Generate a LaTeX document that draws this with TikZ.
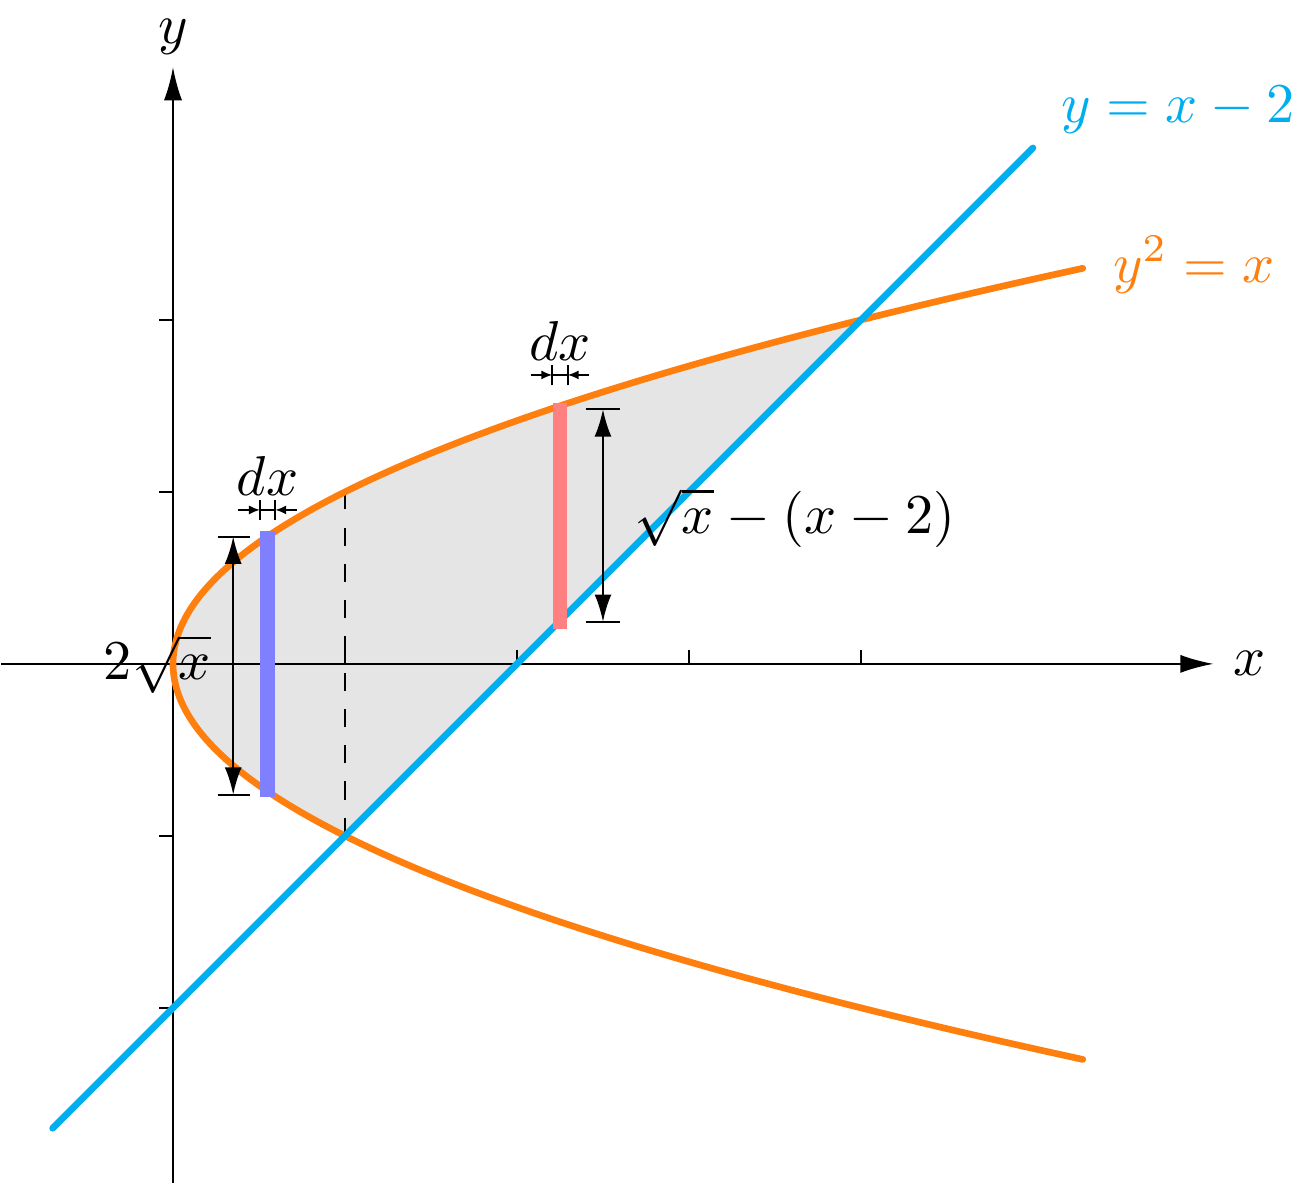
\documentclass[tikz,border=0pt]{standalone}
\usetikzlibrary{arrows.meta}
\definecolor{orng}{RGB}{255,127,14}
\definecolor{cyn}{RGB}{0,174,239}
\begin{document}
\begin{tikzpicture}[
  ax/.style={line width=0.35pt,-{Latex[length=5.5pt,width=3pt]}},
  dim/.style={line width=0.35pt,{Latex[length=4.5pt,width=2.8pt]}-{Latex[length=4.5pt,width=2.8pt]}},
  small/.style={line width=0.3pt,-{Latex[length=1.8pt,width=1.5pt]}},
  lbl/.style={font=\normalsize,scale=0.93}]
\useasboundingbox (-1.006,-3.017) rectangle (6.547,3.860);
% region
\fill[gray!20] (4,2) -- plot[domain=2:-1,samples=60,smooth] ({\x*\x},\x) -- cycle;
% axes
\draw[ax] (-1,0) -- (6.05,0) node[right,lbl] (xl) {$x$};
\draw[ax] (0,-3.02) -- (0,3.47) node[above,lbl,inner sep=2pt] (yl) {$y$};
\foreach \t in {1,2,3,4} \draw[line width=0.3pt] (\t,0) -- (\t,0.08);
\foreach \t in {-2,-1,1,2} \draw[line width=0.3pt] (0,\t) -- (-0.08,\t);
% dashed
\draw[dashed,line width=0.35pt] (1,-1) -- (1,1);
% curves
\draw[orng,line width=1.1pt,line cap=round] plot[domain=-2.3:2.3,samples=80,smooth] ({\x*\x},\x);
\node[orng,right,lbl] (pl) at (5.35,2.32) {$y^2=x$};
\draw[cyn,line width=1.1pt,line cap=round] (-0.7,-2.7) -- (5,3);
\node[cyn,right,lbl] (ll) at (5.05,3.22) {$y=x-2$};
% strips
\draw[blue!50,line width=2.4pt] (0.55,-0.775) -- (0.55,0.775);
\draw[red!50,line width=2.4pt] (2.25,0.205) -- (2.25,1.515);
% left dimension
\draw[line width=0.35pt] (0.26,0.74) -- (0.45,0.74) (0.26,-0.76) -- (0.45,-0.76);
\coordinate (la) at (0.35,0.74); \coordinate (lb) at (0.35,-0.76);
\draw[dim] (la) -- (lb);
\node[lbl] (l2) at (-0.09,0.0) {$2\sqrt{x}$};
% right dimension
\draw[line width=0.35pt] (2.4,1.48) -- (2.6,1.48) (2.4,0.245) -- (2.6,0.245);
\coordinate (ra) at (2.5,1.48); \coordinate (rb) at (2.5,0.245);
\draw[dim] (ra) -- (rb);
\node[lbl,anchor=west] (rl) at (2.57,0.85) {$\sqrt{x}-(x-2)$};
% dx markers
\foreach \cx/\cy/\nm in {0.55/0.895/a,2.25/1.68/b}{
  \draw[line width=0.3pt] (\cx-0.045,\cy-0.06) -- (\cx-0.045,\cy+0.06) (\cx+0.045,\cy-0.06) -- (\cx+0.045,\cy+0.06);
  \draw[line width=0.3pt] (\cx-0.045,\cy) -- (\cx+0.045,\cy);
  \coordinate (\nm1) at (\cx-0.17,\cy); \coordinate (\nm2) at (\cx-0.045,\cy);
  \coordinate (\nm3) at (\cx+0.17,\cy); \coordinate (\nm4) at (\cx+0.045,\cy);
  \draw[small] (\nm1) -- (\nm2);
  \draw[small] (\nm3) -- (\nm4);
  \node[lbl] (dx\nm) at (\cx,\cy+0.2) {$dx$};
}
\end{tikzpicture}
\end{document}
